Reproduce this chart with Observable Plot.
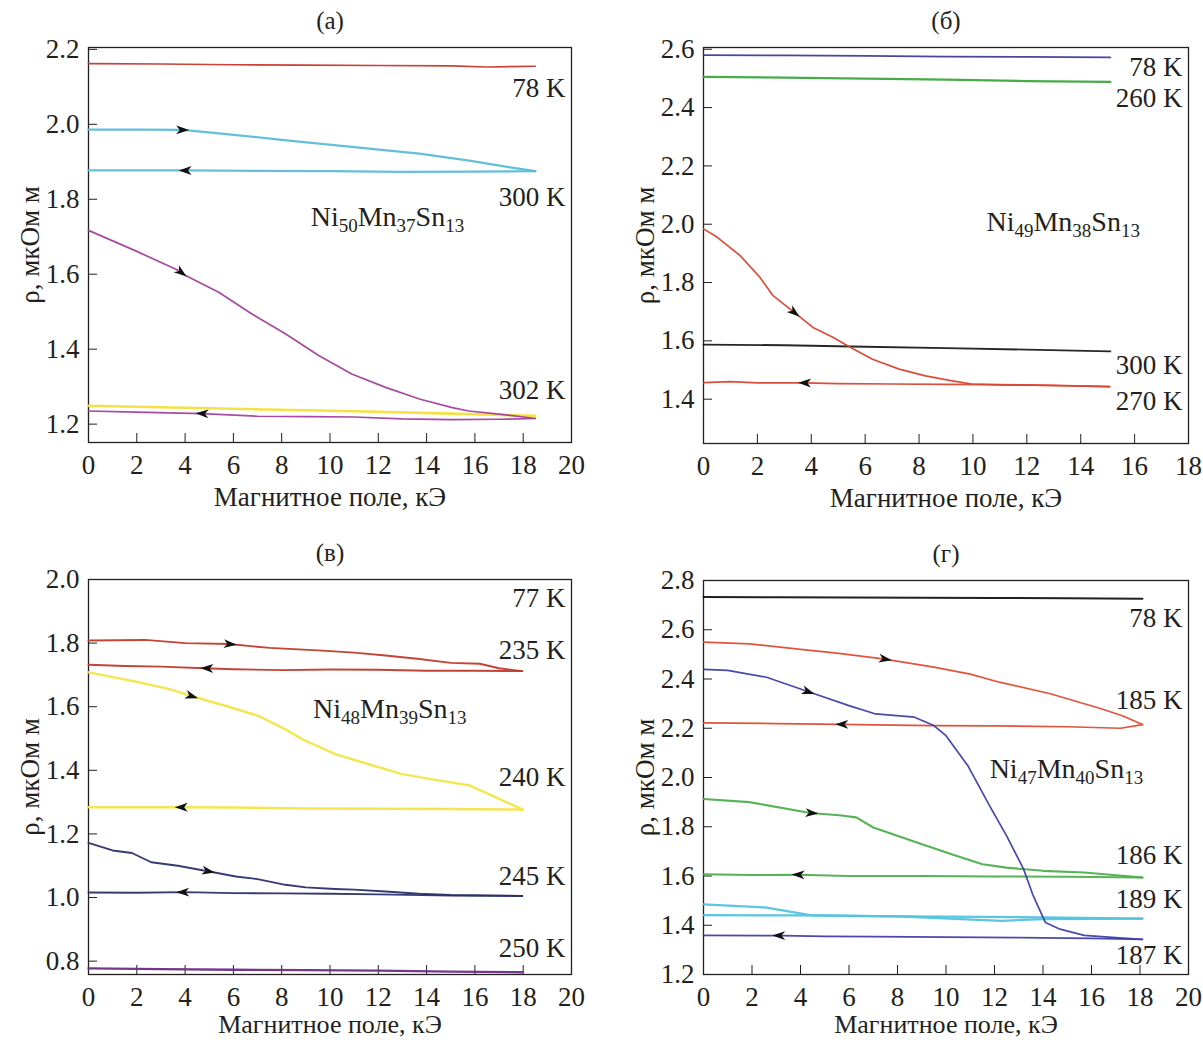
<!DOCTYPE html>
<html><head><meta charset="utf-8">
<script src="https://cdn.jsdelivr.net/npm/d3@7"></script>
<script src="https://cdn.jsdelivr.net/npm/@observablehq/plot@0.6"></script>
<style>
body{margin:0;background:#fff;}
#wrap{position:relative;width:1203px;height:1040px;overflow:hidden;background:#fff;}
#wrap svg{position:absolute;background:none;}
</style></head><body><div id="wrap"></div>
<script>
// ---------- Panel (a): Ni50Mn37Sn13 ----------
const a_78K = [[0,2.162],[3,2.161],[6,2.159],[9,2.158],[12,2.157],[15,2.156],[16.5,2.153],[18.5,2.155]];
const a_300K_up = [[0,1.986],[2,1.986],[3.9,1.985],[5.4,1.976],[8.1,1.958],[10.9,1.940],[13.7,1.922],[15.7,1.904],[17.4,1.886],[18.5,1.875]];
const a_300K_down = [[18.5,1.875],[16,1.874],[13,1.873],[10,1.875],[7,1.876],[4,1.877],[2,1.877],[0,1.877]];
const a_302K_up = [[0,1.717],[1.93,1.663],[3.73,1.610],[4.0,1.597],[5.39,1.552],[6.77,1.494],[8.15,1.441],[9.53,1.383],[10.9,1.334],[12.3,1.298],[13.7,1.267],[15.06,1.244],[15.75,1.235],[17.1,1.226],[18.5,1.215]];
const a_302K_down = [[18.5,1.215],[17,1.213],[15,1.212],[13,1.214],[11,1.219],[9,1.220],[7,1.221],[4.7,1.228],[2,1.232],[0,1.235]];
const a_302K_yellow = [[0,1.249],[3,1.245],[6,1.241],[9,1.237],[12,1.233],[15,1.228],[18.5,1.222]];
const a_labels = [["78 K",2.097],["300 K",1.806],["302 K",1.289]];
const a_yTicks = [1.2,1.4,1.6,1.8,2.0,2.2];
const a_xTicks = [0,2,4,6,8,10,12,14,16,18,20];

// ---------- Panel (б): Ni49Mn38Sn13 ----------
const b_78K = [[0,2.580],[3,2.579],[6,2.577],[9,2.575],[12,2.574],[15.1,2.572]];
const b_260K = [[0,2.505],[3,2.503],[6,2.499],[9,2.496],[12,2.491],[15.1,2.488]];
const b_300K = [[0,1.587],[3,1.585],[6,1.580],[9,1.575],[12,1.570],[15.1,1.564]];
const b_270K_up = [[0,1.984],[0.5,1.956],[1.35,1.893],[2.09,1.818],[2.58,1.755],[3.32,1.701],[4.06,1.646],[4.8,1.612],[5.41,1.580],[6.27,1.537],[7.26,1.503],[8.24,1.480],[9.23,1.463],[9.96,1.452],[10.95,1.449],[12.18,1.448],[13.41,1.446],[15.07,1.443]];
const b_270K_down = [[15.07,1.443],[13,1.447],[11,1.450],[9,1.451],[7,1.452],[5,1.453],[3.75,1.456],[2,1.456],[1,1.460],[0,1.457]];
const b_labels = [["78 K",2.537],["260 K",2.431],["300 K",1.515],["270 K",1.392]];
const b_yTicks = [1.4,1.6,1.8,2.0,2.2,2.4,2.6];
const b_xTicks = [0,2,4,6,8,10,12,14,16,18];

// ---------- Panel (в): Ni48Mn39Sn13 ----------
const c_235K_up = [[0,1.808],[2.35,1.810],[4,1.800],[5.8,1.797],[7.5,1.785],[9.5,1.777],[11,1.770],[12.3,1.761],[13.7,1.750],[15,1.738],[16.2,1.735],[17,1.721],[17.96,1.712]];
const c_235K_down = [[17.96,1.712],[16,1.713],[14,1.713],[12,1.716],[10,1.717],[8,1.715],[6,1.718],[4.8,1.721],[3,1.726],[1.5,1.728],[0,1.732]];
const c_240K_up = [[0,1.708],[1.93,1.679],[3.31,1.656],[4.28,1.633],[5.66,1.603],[7.04,1.571],[8.15,1.529],[8.84,1.498],[10.22,1.451],[11.6,1.419],[12.98,1.388],[14.36,1.370],[15.75,1.353],[16.44,1.330],[17.96,1.277]];
const c_240K_down = [[17.96,1.277],[15,1.278],[12,1.279],[9,1.280],[6,1.283],[4,1.284],[2,1.284],[0,1.284]];
const c_245K_up = [[0,1.172],[1.0,1.148],[1.8,1.140],[2.6,1.111],[3.7,1.100],[5.0,1.082],[6.1,1.066],[7,1.058],[8.15,1.040],[9,1.032],[10.2,1.027],[11,1.025],[12.3,1.019],[13.7,1.012],[15,1.008],[17.96,1.005]];
const c_245K_down = [[17.96,1.005],[15,1.006],[12,1.010],[10,1.012],[8,1.013],[6,1.014],[4,1.017],[2,1.015],[0,1.016]];
const c_250K = [[0,0.777],[3,0.775],[6,0.773],[9,0.772],[12,0.770],[15,0.767],[17.96,0.765]];
const c_labels = [["77 K",1.94],["235 K",1.777],["240 K",1.377],["245 K",1.066],["250 K",0.84]];
const c_yTicks = [0.8,1.0,1.2,1.4,1.6,1.8,2.0];
const c_xTicks = [0,2,4,6,8,10,12,14,16,18,20];

// ---------- Panel (г): Ni47Mn40Sn13 ----------
const d_78K = [[0,2.733],[3,2.732],[6,2.731],[9,2.730],[12,2.729],[15,2.728],[18.1,2.726]];
const d_185K_up = [[0,2.550],[1.9,2.543],[4.0,2.520],[5.5,2.505],[7.4,2.482],[9.5,2.448],[11,2.420],[12.2,2.387],[14.3,2.340],[16.4,2.279],[17.3,2.250],[18.1,2.215]];
const d_185K_down = [[18.1,2.215],[17.2,2.200],[15,2.206],[12,2.210],[9.5,2.211],[7,2.214],[5.7,2.216],[3,2.219],[0,2.222]];
const d_187K_up = [[0,2.439],[1.0,2.435],[2.6,2.407],[4.3,2.349],[6.0,2.292],[7.1,2.258],[8.7,2.245],[9.5,2.211],[10.0,2.170],[10.9,2.048],[11.8,1.885],[12.5,1.763],[13.2,1.628],[13.6,1.519],[14.1,1.411],[14.7,1.384],[15.7,1.359],[17.0,1.350],[18.1,1.343]];
const d_187K_down = [[18.1,1.343],[16,1.347],[13,1.350],[10,1.352],[7,1.354],[5,1.355],[3.2,1.358],[0,1.359]];
const d_186K_up = [[0,1.913],[1.9,1.900],[4.4,1.856],[5.6,1.847],[6.3,1.838],[7.0,1.797],[8.8,1.736],[10.2,1.689],[11.5,1.648],[12.5,1.634],[14.0,1.621],[15.7,1.614],[18.1,1.594]];
const d_186K_down = [[18.1,1.594],[15,1.597],[12,1.598],[9,1.600],[6,1.600],[3.9,1.605],[2,1.604],[0,1.607]];
const d_189K_a = [[0,1.485],[2.6,1.472],[4.4,1.441],[7,1.437],[10,1.435],[14,1.432],[18.1,1.427]];
const d_189K_b = [[0,1.441],[4,1.440],[8,1.436],[12.3,1.418],[14,1.425],[18.1,1.427]];
const d_labels = [["78 K",2.645],["185 K",2.313],["186 K",1.685],["189 K",1.506],["187 K",1.278]];
const d_yTicks = [1.2,1.4,1.6,1.8,2.0,2.2,2.4,2.6,2.8];
const d_xTicks = [0,2,4,6,8,10,12,14,16,18,20];

const xLabel = "Магнитное поле, кЭ";
const yLabel = "ρ, мкОм м";

const FONT = "'Liberation Serif', 'Times New Roman', serif";
const INK = "#231f20";

// arrowhead symbol (points to +x before rotation)
const arrowHead = {
  draw(ctx, size) {
    const r = Math.sqrt(size / Math.PI);
    ctx.moveTo(r, 0);
    ctx.lineTo(-r, -0.68 * r);
    ctx.lineTo(-0.45 * r, 0);
    ctx.lineTo(-r, 0.68 * r);
    ctx.closePath();
  }
};

function locate(pts, x) {
  for (let i = 0; i < pts.length - 1; i++) {
    const [x0, y0] = pts[i], [x1, y1] = pts[i + 1];
    if (x0 !== x1 && (x - x0) * (x - x1) <= 0) {
      const t = (x - x0) / (x1 - x0);
      return {y: y0 + t * (y1 - y0), slope: (y1 - y0) / (x1 - x0)};
    }
  }
  return {y: pts[0][1], slope: 0};
}

function panel(cfg) {
  const {left, top, width, height, ml, mr, mt, mb, xDomain, yDomain, xTicks, yTicks, title, series, arrows, labels, formula, xLabelDy, xLabelSize} = cfg;
  const kx = (width - ml - mr) / (xDomain[1] - xDomain[0]);
  const ky = (height - mt - mb) / (yDomain[1] - yDomain[0]);
  const arrowData = arrows.map(a => {
    const {y, slope} = locate(a.line, a.x);
    const sx = a.dir * kx, sy = -a.dir * slope * ky;
    return {x: a.x, y, angle: Math.atan2(sy, sx) * 180 / Math.PI};
  });
  const marks = [
    Plot.frame({stroke: INK, strokeWidth: 1.3}),
    Plot.axisX(xTicks, {anchor: "bottom", tickSize: -9, tickPadding: 21, fontSize: 27, color: INK, tickFormat: d => String(d), label: null}),
    Plot.axisY(yTicks, {anchor: "left", tickSize: -9, tickPadding: 18, fontSize: 27, color: INK, tickFormat: d3.format(".1f"), label: null}),
    ...series.map(s => Plot.line(s.data, {x: d => d[0], y: d => d[1], stroke: s.color, strokeWidth: s.w || 1.7, strokeOpacity: 0.95})),
    Plot.dot(arrowData, {x: "x", y: "y", rotate: "angle", symbol: arrowHead, r: 6.5, fill: "#111", stroke: "none"}),
    Plot.text(labels, {y: d => d[1], text: d => d[0], frameAnchor: "right", textAnchor: "end", lineAnchor: "middle", dx: -6, fontSize: 27, fill: INK}),
    Plot.text([formula], {x: d => d.x, y: d => d.y, text: d => d.t, textAnchor: "start", lineAnchor: "middle", fontSize: 28, fill: INK, className: "formula"}),
    Plot.text([title], {text: d => d, frameAnchor: "top", textAnchor: "middle", lineAnchor: "middle", dy: -27, fontSize: 25, fill: INK}),
    Plot.text([xLabel], {text: d => d, frameAnchor: "bottom", textAnchor: "middle", lineAnchor: "middle", dy: xLabelDy, fontSize: xLabelSize, fill: INK}),
    Plot.text([yLabel], {text: d => d, frameAnchor: "left", textAnchor: "middle", lineAnchor: "middle", rotate: -90, dx: -58, fontSize: 27, fill: INK})
  ];
  const svg = Plot.plot({
    width, height,
    marginLeft: ml, marginRight: mr, marginTop: mt, marginBottom: mb,
    x: {domain: xDomain, label: null},
    y: {domain: yDomain, label: null},
    style: {fontFamily: FONT, background: "none", color: INK, overflow: "visible"},
    marks
  });
  svg.style.left = left + "px";
  svg.style.top = top + "px";
  // subscripts in formula
  svg.querySelectorAll(".formula text").forEach(t => {
    const s = t.textContent;
    t.textContent = "";
    let sub = false;
    for (const tok of s.match(/\d+|\D+/g)) {
      const ts = document.createElementNS("http://www.w3.org/2000/svg", "tspan");
      ts.textContent = tok;
      const isNum = /^\d+$/.test(tok);
      if (isNum) {
        ts.setAttribute("font-size", "19");
        if (!sub) ts.setAttribute("dy", "6");
        sub = true;
      } else {
        if (sub) ts.setAttribute("dy", "-6");
        sub = false;
      }
      t.appendChild(ts);
    }
  });
  document.getElementById("wrap").appendChild(svg);
}

panel({
  left: 0, top: 0, width: 601, height: 520, ml: 88, mr: 30, mt: 47, mb: 78,
  xDomain: [0, 20], yDomain: [1.151, 2.205], xTicks: a_xTicks, yTicks: a_yTicks, title: "(a)",
  xLabelDy: 55, xLabelSize: 27,
  series: [
    {data: a_78K, color: "#c8372d"},
    {data: a_300K_up, color: "#5cbcd6", w: 2.3},
    {data: a_300K_down, color: "#5cbcd6", w: 2.3},
    {data: a_302K_yellow, color: "#f3e03a", w: 2.6},
    {data: a_302K_up, color: "#a2409b"},
    {data: a_302K_down, color: "#a2409b"}
  ],
  arrows: [
    {line: a_300K_up, x: 3.9, dir: 1},
    {line: a_300K_down, x: 4.0, dir: -1},
    {line: a_302K_up, x: 3.85, dir: 1},
    {line: a_302K_down, x: 4.7, dir: -1}
  ],
  labels: a_labels,
  formula: {x: 9.2, y: 1.752, t: "Ni50Mn37Sn13"}
});

panel({
  left: 601, top: 0, width: 602, height: 520, ml: 102, mr: 15, mt: 47, mb: 77,
  xDomain: [0, 18], yDomain: [1.248, 2.606], xTicks: b_xTicks, yTicks: b_yTicks, title: "(б)",
  xLabelDy: 55, xLabelSize: 27,
  series: [
    {data: b_78K, color: "#3a3f9a"},
    {data: b_260K, color: "#3da63f", w: 2.3},
    {data: b_300K, color: "#1a1a1a", w: 1.9},
    {data: b_270K_up, color: "#d9452f"},
    {data: b_270K_down, color: "#d9452f"}
  ],
  arrows: [
    {line: b_270K_up, x: 3.38, dir: 1},
    {line: b_270K_down, x: 3.75, dir: -1}
  ],
  labels: b_labels,
  formula: {x: 10.5, y: 2.007, t: "Ni49Mn38Sn13"}
});

panel({
  left: 0, top: 532, width: 601, height: 508, ml: 88, mr: 30, mt: 47, mb: 66,
  xDomain: [0, 20], yDomain: [0.758, 2.0], xTicks: c_xTicks, yTicks: c_yTicks, title: "(в)",
  xLabelDy: 50, xLabelSize: 26,
  series: [
    {data: c_235K_up, color: "#bf3a2c", w: 1.9},
    {data: c_235K_down, color: "#bf3a2c", w: 1.9},
    {data: c_240K_up, color: "#f3e54a", w: 2.5},
    {data: c_240K_down, color: "#f3e54a", w: 2.5},
    {data: c_245K_up, color: "#2d2f6b", w: 1.9},
    {data: c_245K_down, color: "#2d2f6b", w: 1.9},
    {data: c_250K, color: "#6b2d86", w: 2.3}
  ],
  arrows: [
    {line: c_235K_up, x: 5.87, dir: 1},
    {line: c_235K_down, x: 4.9, dir: -1},
    {line: c_240K_up, x: 4.28, dir: 1},
    {line: c_240K_down, x: 3.84, dir: -1},
    {line: c_245K_up, x: 4.97, dir: 1},
    {line: c_245K_down, x: 3.9, dir: -1}
  ],
  labels: c_labels,
  formula: {x: 9.3, y: 1.593, t: "Ni48Mn39Sn13"}
});

panel({
  left: 601, top: 532, width: 602, height: 508, ml: 102, mr: 15, mt: 48, mb: 66,
  xDomain: [0, 20], yDomain: [1.2, 2.8], xTicks: d_xTicks, yTicks: d_yTicks, title: "(г)",
  xLabelDy: 50, xLabelSize: 26,
  series: [
    {data: d_78K, color: "#151515", w: 2.1},
    {data: d_185K_up, color: "#e04a33"},
    {data: d_185K_down, color: "#e04a33"},
    {data: d_186K_up, color: "#4eae4f", w: 2.1},
    {data: d_186K_down, color: "#4eae4f", w: 2.1},
    {data: d_189K_a, color: "#52c3e0", w: 2.3},
    {data: d_189K_b, color: "#52c3e0", w: 2.3},
    {data: d_187K_up, color: "#3f3fa6"},
    {data: d_187K_down, color: "#3f3fa6"}
  ],
  arrows: [
    {line: d_185K_up, x: 7.5, dir: 1},
    {line: d_185K_down, x: 5.7, dir: -1},
    {line: d_187K_up, x: 4.33, dir: 1},
    {line: d_187K_down, x: 3.1, dir: -1},
    {line: d_186K_up, x: 4.47, dir: 1},
    {line: d_186K_down, x: 3.9, dir: -1}
  ],
  labels: d_labels,
  formula: {x: 11.8, y: 2.035, t: "Ni47Mn40Sn13"}
});
</script>
</body></html>
